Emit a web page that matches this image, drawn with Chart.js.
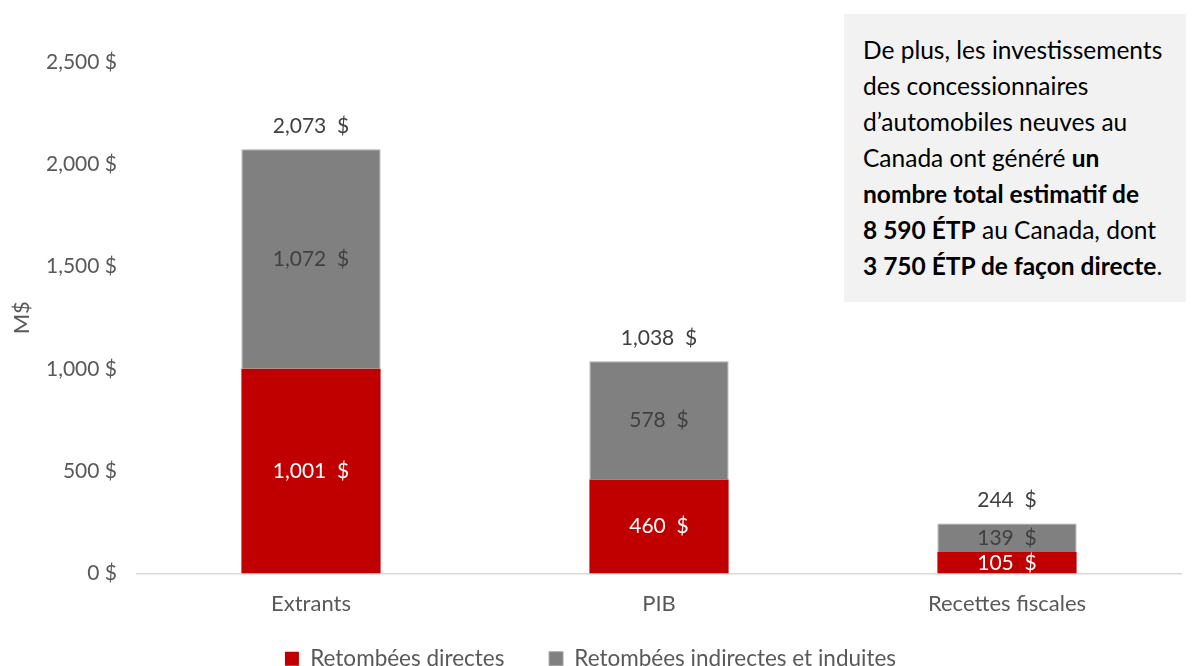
<!DOCTYPE html>
<html>
<head>
<meta charset="utf-8">
<script src="https://cdn.jsdelivr.net/npm/chart.js@4.4.1/dist/chart.umd.min.js"></script>
<style>
  html, body { margin: 0; padding: 0; background: #fff; }
  #wrap { position: relative; width: 1200px; height: 666px; }
  #note {
    position: absolute; left: 844px; top: 14px; width: 342px; height: 288px;
    background: #F2F2F2; box-sizing: border-box; padding: 18px 0 0 19px;
    font-family: Lato, "Open Sans", sans-serif; font-size: 24.5px; line-height: 36px; color: #000;
    white-space: nowrap;
  }
</style>
</head>
<body>
<div id="wrap">
  <canvas id="c" width="1200" height="666"></canvas>
  <div id="note">De plus, les investissements<br>des concessionnaires<br>d’automobiles neuves au<br>Canada ont généré <b>un</b><br><b>nombre total estimatif de</b><br><b>8 590 ÉTP</b> au Canada, dont<br><b>3 750 ÉTP de façon directe</b>.</div>
</div>
<script>
const categories = ["Extrants", "PIB", "Recettes fiscales"];
const directes = [1001, 460, 105];
const indirectes = [1072, 578, 139];
const seriesNames = ["Retombées directes", "Retombées indirectes et induites"];
const yTicks = [0, 500, 1000, 1500, 2000, 2500];

const FONT = "Lato, 'Open Sans', sans-serif";
const fmt = v => v.toLocaleString("en-US");

const labelsPlugin = {
  id: "labels",
  afterDatasetsDraw(chart) {
    const ctx = chart.ctx;
    ctx.save();
    ctx.font = "21px " + FONT;
    ctx.textAlign = "center";
    ctx.textBaseline = "middle";
    const m0 = chart.getDatasetMeta(0), m1 = chart.getDatasetMeta(1);
    categories.forEach((c, i) => {
      const b0 = m0.data[i], b1 = m1.data[i];
      ctx.fillStyle = "#FFFFFF";
      ctx.fillText(fmt(directes[i]) + "  $", b0.x, (b0.y + b0.base) / 2);
      ctx.fillStyle = "#404040";
      ctx.fillText(fmt(indirectes[i]) + "  $", b1.x, (b1.y + b1.base) / 2);
      ctx.fillText(fmt(directes[i] + indirectes[i]) + "  $", b1.x, b1.y - 23);
    });
    ctx.restore();
  }
};

new Chart(document.getElementById("c"), {
  type: "bar",
  data: {
    labels: categories,
    datasets: [
      { label: seriesNames[0], data: directes, backgroundColor: "#C00000", borderWidth: 0 },
      { label: seriesNames[1], data: indirectes, backgroundColor: "#808080", borderColor: "#A6A6A6", borderWidth: 1 }
    ]
  },
  options: {
    responsive: false,
    animation: false,
    layout: { padding: { top: 62, right: 19, left: 0, bottom: -14 } },
    datasets: { bar: { categoryPercentage: 1.0, barPercentage: 0.4 } },
    scales: {
      x: {
        stacked: true,
        grid: { display: false, drawTicks: false },
        border: { color: "#D9D9D9", width: 1.5 },
        ticks: { color: "#595959", font: { family: FONT, size: 22 }, padding: 17 },
        afterFit: s => { s.height = 64; }
      },
      y: {
        stacked: true,
        min: 0, max: 2500,
        afterBuildTicks: s => { s.ticks = yTicks.map(v => ({ value: v })); },
        grid: { display: false, drawTicks: false },
        border: { display: false },
        ticks: { color: "#595959", font: { family: FONT, size: 21 }, padding: 20, callback: v => fmt(v) + " $" },
        title: { display: true, text: "M$", color: "#595959", font: { family: FONT, size: 22 }, padding: { top: 9, bottom: 0 } },
        afterFit: s => { s.width = 137; }
      }
    },
    plugins: {
      legend: {
        position: "bottom",
        labels: {
          color: "#595959", font: { family: FONT, size: 22.5 }, boxWidth: 14, boxHeight: 14, padding: 10, useBorderRadius: false,
          generateLabels: chart => {
            const items = Chart.defaults.plugins.legend.labels.generateLabels(chart);
            items[0].text = items[0].text + "\u00A0\u00A0\u00A0\u00A0\u00A0\u00A0";
            return items;
          }
        },
      },
      tooltip: { enabled: false }
    }
  },
  plugins: [labelsPlugin]
});
</script>
</body>
</html>
